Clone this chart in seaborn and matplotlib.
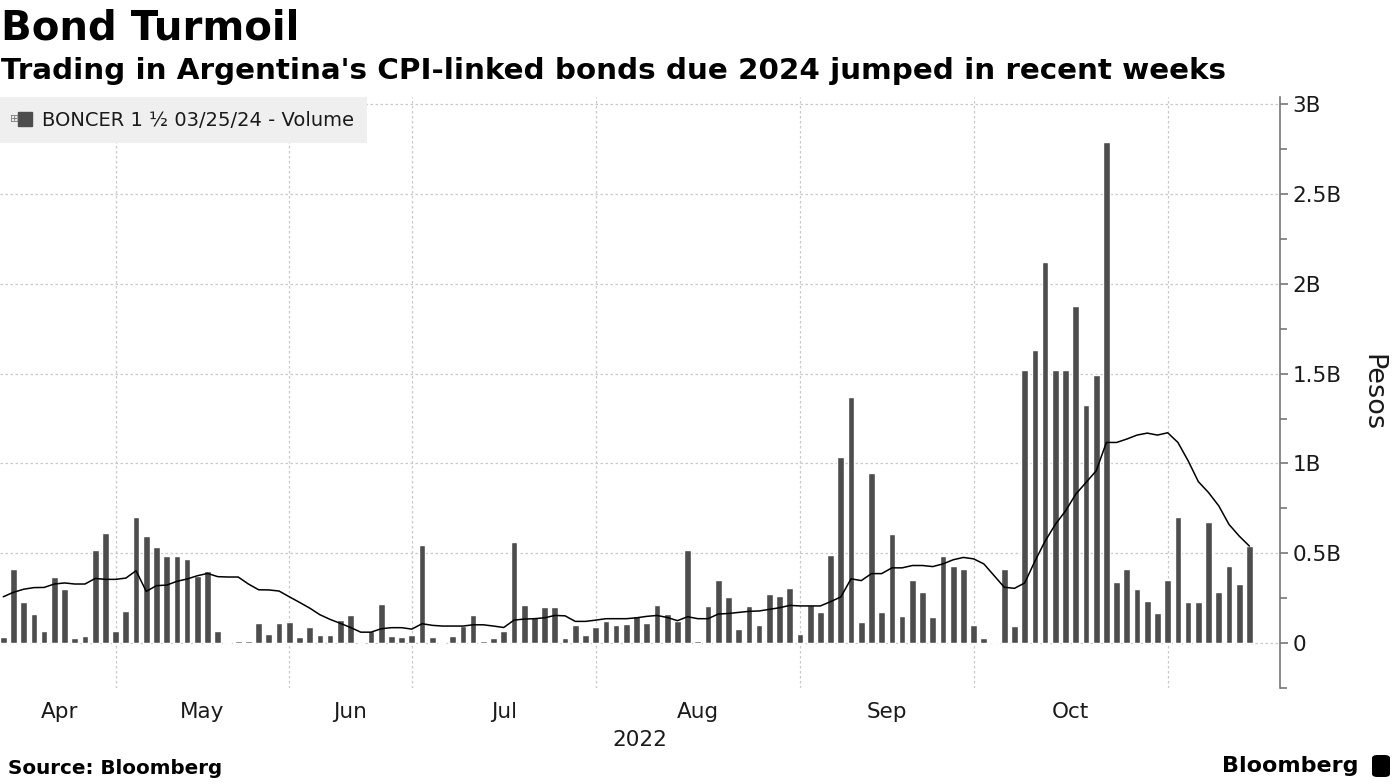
import numpy as np
import pandas as pd
import seaborn as sns
import matplotlib.pyplot as plt
from matplotlib.lines import Line2D
from matplotlib.patches import FancyBboxPatch
from matplotlib.ticker import FixedLocator, MultipleLocator, FuncFormatter

# daily traded volume, billions of pesos (one entry per trading day shown)
volume = [
    0.033, 0.41, 0.23, 0.16, 0.07, 0.37, 0.30, 0.026, 0.04, 0.52, 0.615,
    0.07, 0.18, 0.70, 0.597, 0.537, 0.485, 0.485, 0.467, 0.374, 0.403, 0.065, 0.006, 0.013, 0.013,
    0.11, 0.052, 0.11,
    0.117, 0.035, 0.09, 0.046, 0.046, 0.13, 0.156, 0.002, 0.065, 0.22, 0.04, 0.035,
    0.046, 0.545, 0.035, 0.002, 0.04, 0.097, 0.156, 0.01, 0.028, 0.065,
    0.563, 0.214, 0.143, 0.20, 0.20, 0.028, 0.099, 0.046,
    0.091, 0.125, 0.099, 0.106, 0.149, 0.11, 0.214, 0.162, 0.125, 0.519,
    0.013, 0.206, 0.351, 0.258, 0.08, 0.206, 0.099, 0.274, 0.261, 0.305,
    0.052, 0.214, 0.175, 0.493, 1.037, 1.369, 0.117, 0.948, 0.175, 0.609,
    0.151, 0.352, 0.285, 0.145, 0.486, 0.43, 0.415,
    0.099, 0.028, 0.004, 0.41, 0.093, 1.521, 1.631, 2.119, 1.521, 1.521,
    1.879, 1.326, 1.495, 2.788, 0.341, 0.412, 0.302, 0.236, 0.166,
    0.354, 0.704, 0.231, 0.231, 0.672, 0.283, 0.43, 0.328, 0.542,
]

# moving average line, billions of pesos
moving_avg = [
    0.258, 0.283, 0.30, 0.309, 0.31, 0.329, 0.335, 0.329, 0.329, 0.36, 0.355,
    0.355, 0.362, 0.403, 0.288, 0.32, 0.323, 0.344, 0.357, 0.375, 0.388, 0.37, 0.368, 0.368, 0.329,
    0.297, 0.296, 0.29,
    0.258, 0.227, 0.195, 0.158, 0.132, 0.11, 0.087, 0.061, 0.061, 0.08, 0.086, 0.086,
    0.078, 0.108, 0.099, 0.095, 0.095, 0.095, 0.102, 0.102, 0.095, 0.087,
    0.128, 0.134, 0.136, 0.141, 0.154, 0.152, 0.121, 0.121,
    0.128, 0.136, 0.136, 0.136, 0.141, 0.149, 0.154, 0.143, 0.125, 0.147,
    0.136, 0.136, 0.162, 0.165, 0.171, 0.177, 0.179, 0.188, 0.197, 0.21,
    0.207, 0.207, 0.207, 0.231, 0.257, 0.358, 0.348, 0.387, 0.387, 0.419,
    0.419, 0.432, 0.432, 0.426, 0.441, 0.464, 0.477,
    0.469, 0.441, 0.376, 0.311, 0.305, 0.335, 0.456, 0.568, 0.661, 0.736,
    0.829, 0.894, 0.959, 1.117, 1.117, 1.136, 1.158, 1.169, 1.158,
    1.171, 1.117, 1.015, 0.899, 0.838, 0.764, 0.661, 0.596, 0.54,
]

months = ["Apr", "May", "Jun", "Jul", "Aug", "Sep", "Oct", "Nov"]
days_per_month = [11, 17, 12, 18, 20, 17, 19, 9]
y_ticks = [0, 0.5, 1, 1.5, 2, 2.5, 3]

bar_color = "#4d4d4d"
grid_color = "#c8c8c8"
text_color = "#1a1a1a"

sns.set_style("white")
plt.rcParams["font.family"] = ["DejaVu Sans"]

df = pd.DataFrame({"day": np.arange(len(volume)), "volume": volume, "avg": moving_avg})

fig = plt.figure(figsize=(13.95, 7.84), dpi=100)
ax = fig.add_axes([0.0, 0.1224, 0.9176, 0.7539])

sns.barplot(data=df, x="day", y="volume", color=bar_color, saturation=1,
            width=0.66, ax=ax, zorder=3)
sns.lineplot(data=df, x="day", y="avg", color="black", linewidth=1.1, ax=ax, zorder=4)

ax.set_xlim(-0.32, 125.0)
ax.set_ylim(-0.25, 3.04)

# month boundaries as minor ticks (gridlines), labels centred in each month
starts = np.concatenate([[0], np.cumsum(days_per_month)[:-1]])
ends = starts + np.array(days_per_month)
centers = (starts + ends) / 2
ax.xaxis.set_minor_locator(FixedLocator(starts[1:]))
ax.xaxis.set_major_locator(FixedLocator(centers[:-1]))
ax.set_xticklabels(months[:-1])
ax.tick_params(axis="x", which="both", length=0, pad=10, labelsize=15.5, colors=text_color)
ax.grid(axis="x", which="minor", color=grid_color, linestyle=(0, (2, 2)), linewidth=0.9)
ax.grid(axis="x", which="major", visible=False)

ax.yaxis.tick_right()
ax.yaxis.set_label_position("right")
ax.yaxis.set_major_locator(FixedLocator(y_ticks))
ax.yaxis.set_minor_locator(MultipleLocator(0.25))
ax.yaxis.set_major_formatter(FuncFormatter(lambda v, p: "0" if v == 0 else f"{v:g}B"))
ax.tick_params(axis="y", which="major", length=6, width=1.2, color="#777777",
               pad=3, labelsize=15.5, labelcolor=text_color)
ax.tick_params(axis="y", which="minor", length=5, width=1.2, color="#777777")
ax.grid(axis="y", which="major", color=grid_color, linestyle=(0, (2, 2)), linewidth=0.9)
ax.set_axisbelow(True)

for side in ["top", "left", "bottom"]:
    ax.spines[side].set_visible(False)
ax.spines["right"].set_color("#777777")
ax.spines["right"].set_linewidth(1.2)

ax.set_ylabel("Pesos", rotation=270, va="bottom", fontsize=19.5, labelpad=13, color=text_color)
ax.set_xlabel("2022", fontsize=15.5, labelpad=6, color=text_color)

handle = Line2D([], [], marker="s", linestyle="none", color=bar_color, markersize=10)
leg = ax.legend([handle], ["BONCER 1 ½ 03/25/24 - Volume"], loc="upper left",
                bbox_to_anchor=(0, 1), borderaxespad=0, frameon=True, fancybox=False,
                fontsize=14, handlelength=1.2, handletextpad=0.25, borderpad=0.7)
leg.get_frame().set_facecolor("#efefef")
leg.get_frame().set_edgecolor("none")
leg.get_frame().set_alpha(1)
for t in leg.get_texts():
    t.set_color(text_color)
fig.text(15 / 1395, 1 - 119 / 784, "⊞", fontsize=8, color="#777777", ha="center", va="center")

fig.text(0.001, 1 - 9 / 784, "Bond Turmoil", fontsize=29, weight="bold", va="top", color="black")
fig.text(0.001, 1 - 57 / 784, "Trading in Argentina's CPI-linked bonds due 2024 jumped in recent weeks",
         fontsize=21.2, weight="bold", va="top", color="black")
fig.text(8 / 1395, 1 - 768 / 784, "Source: Bloomberg", fontsize=14.3, weight="bold",
         va="center", color="black")
fig.text(1358 / 1395, 1 - 766 / 784, "Bloomberg", fontsize=16, weight="bold",
         va="center", ha="right", color="black")
fig.patches.append(FancyBboxPatch((1372 / 1395, 1 - 777 / 784), 18 / 1395, 22 / 784,
                                  boxstyle="round,pad=0,rounding_size=0.004",
                                  transform=fig.transFigure, facecolor="black",
                                  edgecolor="none"))

fig.savefig("out.png", dpi=100)
